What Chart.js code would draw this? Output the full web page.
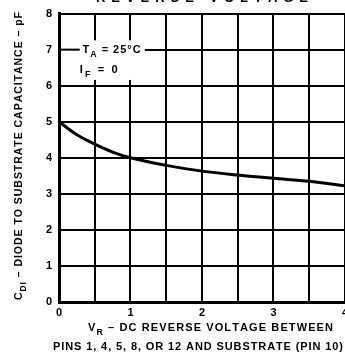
<!DOCTYPE html>
<html>
<head>
<meta charset="utf-8">
<script src="https://cdn.jsdelivr.net/npm/chart.js@4/dist/chart.umd.min.js"></script>
<style>
  html, body { margin: 0; padding: 0; background: #fff; overflow: hidden; }
  #wrap { width: 352px; height: 358px; }
</style>
</head>
<body>
<div id="wrap"><canvas id="c" width="352" height="358"></canvas></div>
<script>
// reverse voltage (V) vs diode-to-substrate capacitance (pF)
const voltage = [0, 0.25, 0.5, 0.75, 1, 1.5, 2, 2.5, 3, 3.5, 4];
const capacitance = [5, 4.64, 4.38, 4.16, 4.0, 3.79, 3.63, 3.52, 3.43, 3.35, 3.22];
const yTicks = [0, 1, 2, 3, 4, 5, 6, 7, 8];
const xTickLabels = ['0', '1', '2', '3', '4'];

const FONT = '"Liberation Sans", Arial, sans-serif';

// draws text char by char so it can be stretched to a target width
function textWidth(ctx, parts, size, spacing) {
    let w = 0, n = 0;
    parts.forEach(p => {
        ctx.font = 'bold ' + (p.sub ? size * 0.8 : size) + 'px ' + FONT;
        for (const ch of p.t) { w += ctx.measureText(ch).width; n++; }
    });
    return w + spacing * (n - 1);
}

function drawSpaced(ctx, parts, x, y, size, target) {
    const natural = textWidth(ctx, parts, size, 0);
    let n = 0;
    parts.forEach(p => n += p.t.length);
    const spacing = target ? (target - natural) / (n - 1) : 1;
    let cx = x;
    ctx.textAlign = 'left';
    ctx.textBaseline = 'alphabetic';
    parts.forEach(p => {
        ctx.font = 'bold ' + (p.sub ? size * 0.8 : size) + 'px ' + FONT;
        const dy = p.sub ? size * 0.35 : 0;
        for (const ch of p.t) {
            ctx.fillText(ch, cx, y + dy);
            cx += ctx.measureText(ch).width + spacing;
        }
    });
}

const labelsPlugin = {
    id: 'labels',
    afterDraw(chart) {
        const ctx = chart.ctx;
        const xs = chart.scales.x, ys = chart.scales.y;
        ctx.save();
        ctx.fillStyle = '#000';

        // partial title clipped at the top
        drawSpaced(ctx, [{t: 'REVERSE VOLTAGE'}], 96, 2, 13, 212);

        // legend box with conditions
        ctx.fillStyle = '#fff';
        const bx0 = xs.getPixelForValue(0) + 2, bx1 = xs.getPixelForValue(1.2);
        const by0 = ys.getPixelForValue(7.26), by1 = ys.getPixelForValue(6.16);
        ctx.fillRect(bx0, by0, bx1 - bx0, by1 - by0);
        ctx.strokeStyle = '#000';
        ctx.lineWidth = 2;
        const y7 = ys.getPixelForValue(7);
        ctx.beginPath();
        ctx.moveTo(xs.getPixelForValue(0), y7);
        ctx.lineTo(xs.getPixelForValue(0.29), y7);
        ctx.stroke();
        ctx.fillStyle = '#000';
        drawSpaced(ctx, [{t: 'T'}, {t: 'A', sub: true}, {t: ' = 25°C'}],
            xs.getPixelForValue(0.33), ys.getPixelForValue(6.9), 11, 58);
        drawSpaced(ctx, [{t: 'I'}, {t: 'F', sub: true}, {t: ' = 0'}],
            xs.getPixelForValue(0.29), ys.getPixelForValue(6.36), 11, 38);

        // x axis title, two lines
        drawSpaced(ctx, [{t: 'V'}, {t: 'R', sub: true}, {t: ' \u2013 DC REVERSE VOLTAGE BETWEEN'}], 88, 331, 11, 245);
        drawSpaced(ctx, [{t: 'PINS 1, 4, 5, 8, OR 12 AND SUBSTRATE (PIN 10)'}], 53, 350, 11, 290);

        // y axis title, rotated
        ctx.translate(22, 300);
        ctx.rotate(-Math.PI / 2);
        drawSpaced(ctx, [{t: 'C'}, {t: 'DI', sub: true}, {t: ' \u2013 DIODE TO SUBSTRATE CAPACITANCE \u2013 pF'}], 0, 0, 10.5, 288);
        ctx.restore();
    }
};

const ctx = document.getElementById('c').getContext('2d');
const chart = new Chart(ctx, {
    type: 'line',
    data: {
        datasets: [{
            data: voltage.map((v, i) => ({x: v, y: capacitance[i]})),
            borderColor: '#000',
            borderWidth: 3,
            pointRadius: 0,
            cubicInterpolationMode: 'monotone',
            fill: false
        }]
    },
    options: {
        responsive: false,
        animation: false,
        layout: {padding: {top: 11, right: 3, left: 0, bottom: 0}},
        plugins: {legend: {display: false}, tooltip: {enabled: false}},
        scales: {
            x: {
                type: 'linear',
                min: 0, max: 4,
                afterFit(scale) { scale.height = 56; },
                afterBuildTicks(scale) {
                    const t = [];
                    for (let v = 0; v <= 4; v += 0.5) t.push({value: v});
                    scale.ticks = t;
                },
                grid: {color: '#000', lineWidth: 2, drawTicks: false},
                border: {color: '#000', width: 3},
                ticks: {
                    padding: 4,
                    maxRotation: 0,
                    autoSkip: false,
                    color: '#000',
                    font: {family: FONT, size: 11, weight: 'bold'},
                    callback: v => Number.isInteger(v) ? xTickLabels[v] : ''
                }
            },
            y: {
                min: 0, max: 8,
                afterFit(scale) { scale.width = 59; },
                afterBuildTicks(scale) { scale.ticks = yTicks.map(v => ({value: v})); },
                grid: {color: '#000', lineWidth: 2, drawTicks: false},
                border: {color: '#000', width: 3},
                ticks: {
                    padding: 7,
                    color: '#000',
                    font: {family: FONT, size: 11, weight: 'bold'}
                }
            }
        }
    },
    plugins: [labelsPlugin]
});
</script>
</body>
</html>
